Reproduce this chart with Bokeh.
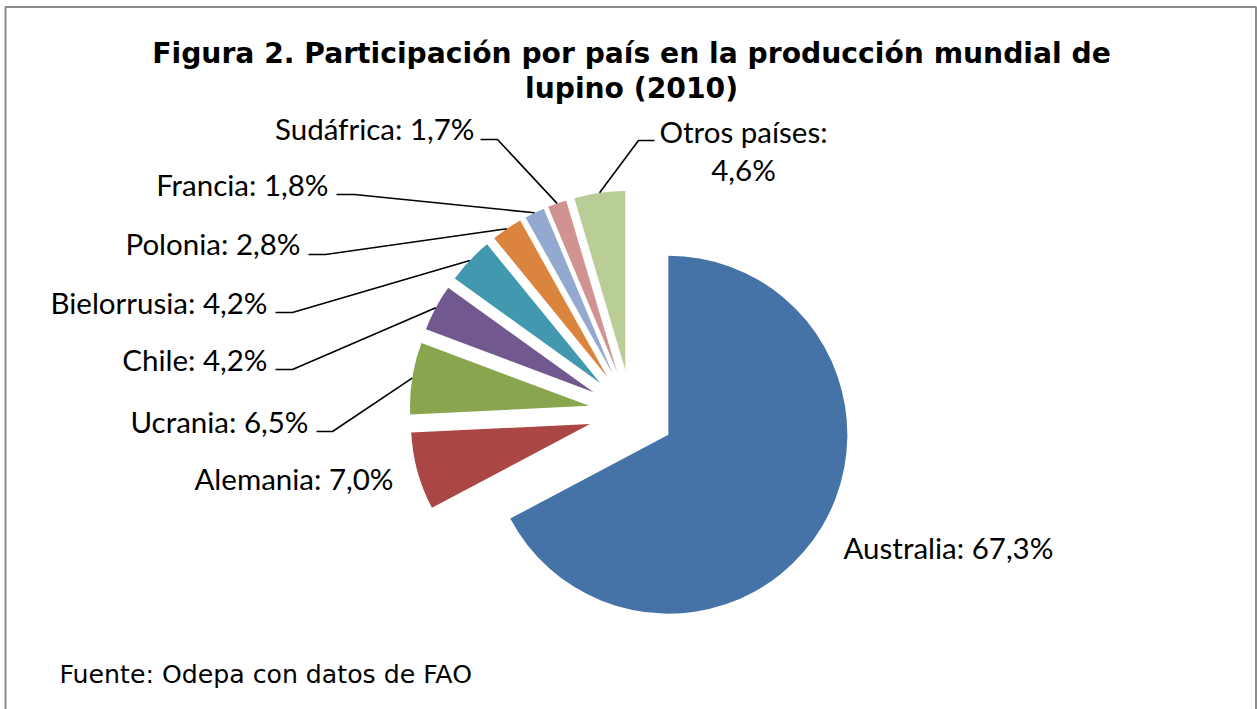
import math
from bokeh.plotting import figure
from bokeh.models import ColumnDataSource, Range1d
from bokeh.core.properties import value
from bokeh.embed import file_html
from bokeh.resources import INLINE

# ---------------- data ----------------
countries = ["Australia", "Alemania", "Ucrania", "Chile", "Bielorrusia",
             "Polonia", "Francia", "Sudáfrica", "Otros países"]
shares = [67.3, 7.0, 6.5, 4.2, 4.2, 2.8, 1.8, 1.7, 4.6]
colors = ["#4572A7", "#AA4643", "#89A54E", "#71588F", "#4198AF",
          "#DB843D", "#93A9CF", "#D19392", "#B9CD96"]
title_lines = ["Figura 2. Participación por país en la producción mundial de",
               "lupino (2010)"]
source_note = "Fuente: Odepa con datos de FAO"

# ---------------- layout (page pixel coordinates) ----------------
W, H = 1257, 709
TEXT_DY = -10   # rendering correction for text baselines


def Y(py):
    return H - py


def YT(py):
    return H - (py + TEXT_DY)


CX, CY = 631, 412      # pie centre (page px)
R = 179                # radius
EXPLODE = 43           # explosion distance

# label placement: (x, baseline y, align, leader (x_text_side, x_slice_side, y) or None)
label_layout = {
    "Australia":    (843, 557, "left", None),
    "Alemania":     (393, 488, "right", None),
    "Ucrania":      (308, 431, "right", (316, 332, 431)),
    "Chile":        (267, 369, "right", (275, 292, 369)),
    "Bielorrusia":  (267, 312, "right", (275, 292, 312)),
    "Polonia":      (300, 253, "right", (308, 325, 254)),
    "Francia":      (328, 194, "right", (336, 354, 194)),
    "Sudáfrica":    (474, 138, "right", (480, 497, 139)),
    "Otros países": (743, 141, "center", (654, 638, 140)),
}
LABEL_FONT = "Lato"
LABEL_SIZE = "29.5px"
LINE_GAP = 38

# ---------------- geometry from data ----------------
total = sum(shares)
vx, vy, st, en, mx, my = [], [], [], [], [], []
cum = 0.0
for s in shares:
    t1 = cum / total * 360.0
    t2 = (cum + s) / total * 360.0
    tm = math.radians((t1 + t2) / 2)
    cum += s
    px = CX + EXPLODE * math.sin(tm)
    py = CY - EXPLODE * math.cos(tm)
    vx.append(px)
    vy.append(Y(py))
    st.append(math.radians(90 - t2))
    en.append(math.radians(90 - t1))
    mx.append(px + R * math.sin(tm))
    my.append(py - R * math.cos(tm))

src = ColumnDataSource(dict(x=vx, y=vy, start=st, end=en, color=colors, country=countries))

p = figure(width=W, height=H,
           x_range=Range1d(0, W), y_range=Range1d(0, H),
           output_backend="svg", toolbar_location=None,
           x_axis_location=None, y_axis_location=None, min_border=0)
p.grid.visible = False
p.outline_line_color = None
p.background_fill_color = "white"
p.border_fill_color = "white"

# chart border
p.line([5, 5, 1255.5, 1255.5], [Y(760), Y(6.5), Y(6.5), Y(760)],
       line_color="#8c8c8c", line_width=2)

p.wedge(x="x", y="y", radius=R, start_angle="start", end_angle="end",
        direction="anticlock", fill_color="color", line_color=None, source=src)

# leader lines
lxs, lys = [], []
for i, c in enumerate(countries):
    lead = label_layout[c][3]
    if lead is None:
        continue
    a, b, yy = lead
    lxs.append([a, b, mx[i]])
    lys.append([Y(yy), Y(yy), Y(my[i])])
p.multi_line(lxs, lys, line_color="black", line_width=1.6)

# labels
groups = {}
for c, s in zip(countries, shares):
    x, yb, align, _ = label_layout[c]
    pct = f"{s:.1f}".replace(".", ",") + "%"
    if align == "center":
        lines = [f"{c}:", pct]
    else:
        lines = [f"{c}: {pct}"]
    for k, t in enumerate(lines):
        g = groups.setdefault(align, dict(x=[], y=[], t=[]))
        g["x"].append(x)
        g["y"].append(YT(yb + k * LINE_GAP))
        g["t"].append(t)
for align, g in groups.items():
    p.text(g["x"], g["y"], text=g["t"], text_font=value(LABEL_FONT),
           text_font_size=value(LABEL_SIZE), text_align=align,
           text_baseline="alphabetic", text_color="black")

# title
p.text([631, 631], [YT(62.5), YT(98.3)], text=title_lines, text_font=value("DejaVu Sans"),
       text_font_style="bold", text_font_size=value("28.2px"), text_align="center",
       text_baseline="alphabetic", text_color="black")

# source note
p.text([59], [YT(684)], text=[source_note], text_font=value("DejaVu Sans"),
       text_font_size=value("25.2px"), text_align="left", text_baseline="alphabetic",
       text_color="black")

open("out.html", "w").write(file_html(p, INLINE))
